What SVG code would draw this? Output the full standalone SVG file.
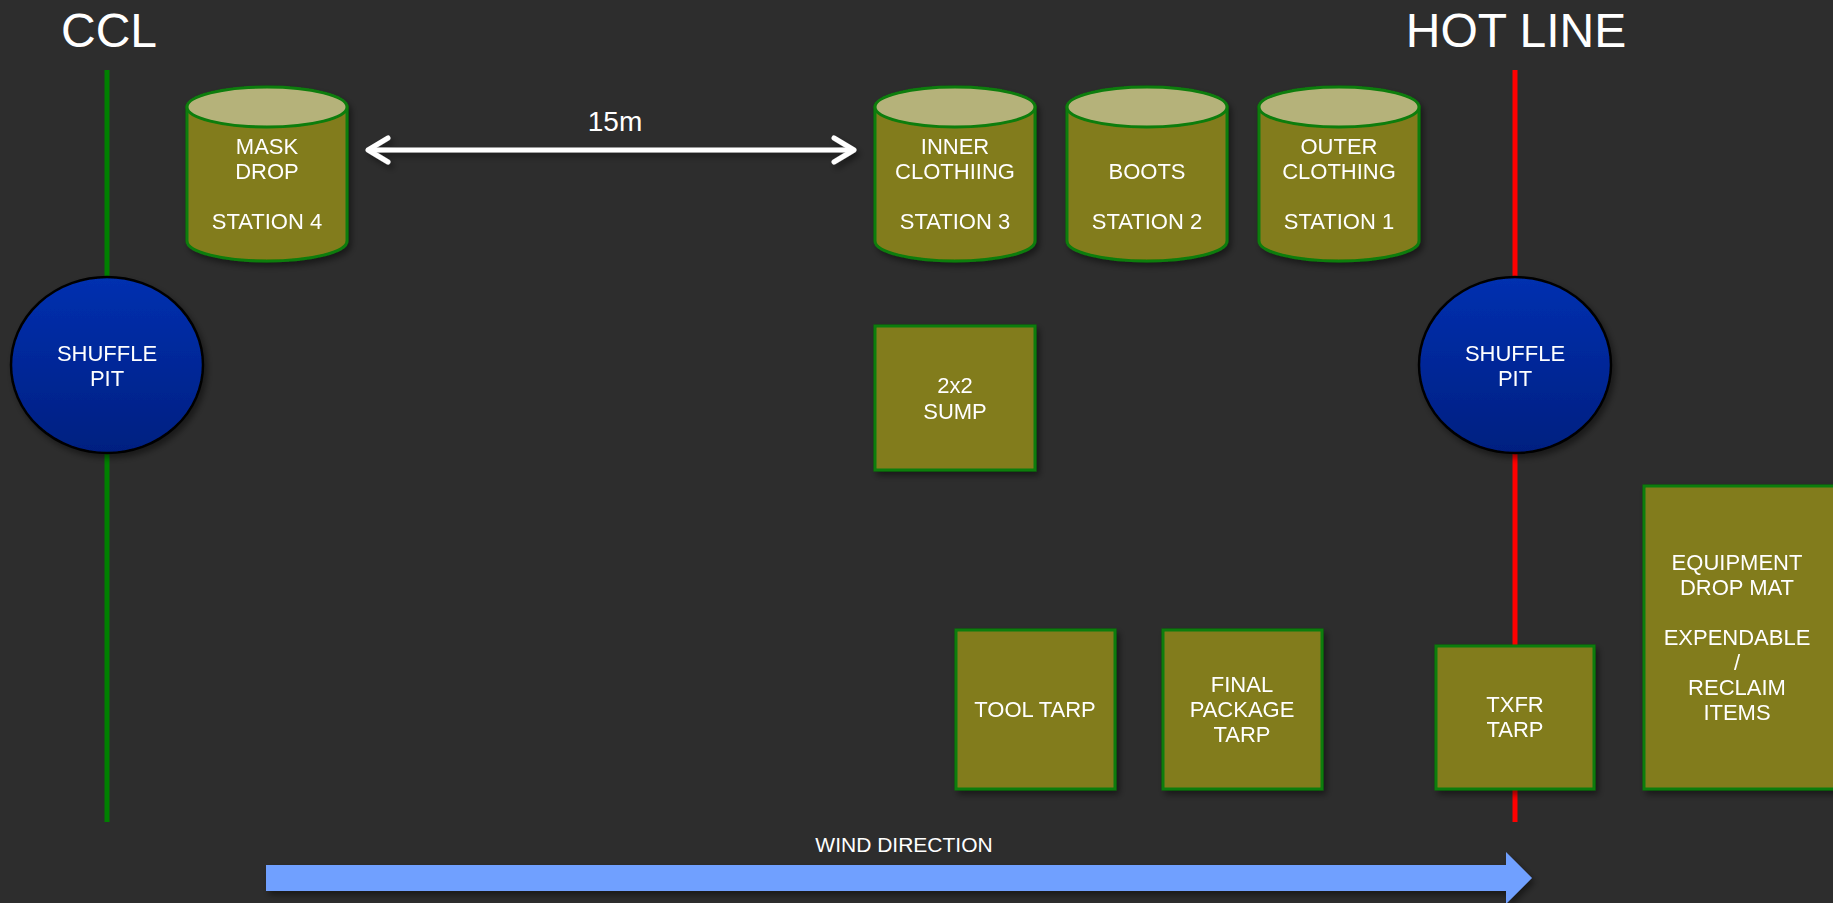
<svg xmlns="http://www.w3.org/2000/svg" width="1833" height="903" viewBox="0 0 1833 903">
<defs>
<style>
.t{font-family:"Liberation Sans",Arial,sans-serif;fill:#ffffff;text-anchor:middle;font-size:22px}
.big{font-size:48px}
.body{fill:#827b1a;stroke:#0b7d0b;stroke-width:3}
.top{fill:#b5b27a;stroke:#0b7d0b;stroke-width:3}
.box{fill:#827b1a;stroke:#0b7d0b;stroke-width:3}
.pit{fill:url(#blue);stroke:#000000;stroke-width:2.5}
</style>
<linearGradient id="blue" x1="0" y1="0" x2="0" y2="1">
<stop offset="0" stop-color="#0030b0"/>
<stop offset="1" stop-color="#001f80"/>
</linearGradient>
<filter id="sh" x="-20%" y="-20%" width="150%" height="150%">
<feDropShadow dx="3" dy="4" stdDeviation="3" flood-color="#000000" flood-opacity="0.45"/>
</filter>
<filter id="shu" filterUnits="userSpaceOnUse" x="0" y="0" width="1833" height="903">
<feDropShadow dx="3" dy="4" stdDeviation="3" flood-color="#000000" flood-opacity="0.45"/>
</filter>
<marker id="ah" viewBox="0 0 30 30" refX="24" refY="15" markerWidth="30" markerHeight="30" markerUnits="userSpaceOnUse" orient="auto-start-reverse">
<polyline points="4,3 24,15 4,27" fill="none" stroke="#ffffff" stroke-width="5" stroke-linecap="round" stroke-linejoin="round"/>
</marker>
</defs>
<rect x="0" y="0" width="1833" height="903" fill="#2d2d2d"/>

<g id="connectors">
<line x1="107" y1="70" x2="107" y2="822" stroke="#008000" stroke-width="5"/>
<line x1="1515" y1="70" x2="1515" y2="822" stroke="#ff0000" stroke-width="5"/>
<line x1="368" y1="150" x2="854" y2="150" stroke="#ffffff" stroke-width="5" marker-start="url(#ah)" marker-end="url(#ah)" filter="url(#shu)"/>
<text class="t" x="615" y="131" style="font-size:28px">15m</text>
</g>

<g id="title-ccl"><text class="t big" x="109" y="47">CCL</text></g>
<g id="title-hotline"><text class="t big" x="1516" y="47">HOT LINE</text></g>

<g id="station4" filter="url(#sh)">
<path class="body" d="M187,107 L187,241 A80,20 0 0 0 347,241 L347,107 Z"/>
<ellipse class="top" cx="267" cy="107" rx="80" ry="20"/>
<text class="t" x="267" y="154">MASK</text>
<text class="t" x="267" y="179">DROP</text>
<text class="t" x="267" y="229">STATION 4</text>
</g>

<g id="station3" filter="url(#sh)">
<path class="body" d="M875,107 L875,241 A80,20 0 0 0 1035,241 L1035,107 Z"/>
<ellipse class="top" cx="955" cy="107" rx="80" ry="20"/>
<text class="t" x="955" y="154">INNER</text>
<text class="t" x="955" y="179">CLOTHIING</text>
<text class="t" x="955" y="229">STATION 3</text>
</g>

<g id="station2" filter="url(#sh)">
<path class="body" d="M1067,107 L1067,241 A80,20 0 0 0 1227,241 L1227,107 Z"/>
<ellipse class="top" cx="1147" cy="107" rx="80" ry="20"/>
<text class="t" x="1147" y="179">BOOTS</text>
<text class="t" x="1147" y="229">STATION 2</text>
</g>

<g id="station1" filter="url(#sh)">
<path class="body" d="M1259,107 L1259,241 A80,20 0 0 0 1419,241 L1419,107 Z"/>
<ellipse class="top" cx="1339" cy="107" rx="80" ry="20"/>
<text class="t" x="1339" y="154">OUTER</text>
<text class="t" x="1339" y="179">CLOTHING</text>
<text class="t" x="1339" y="229">STATION 1</text>
</g>

<g id="shufflepit-left" filter="url(#sh)">
<ellipse class="pit" cx="107" cy="365" rx="96" ry="88"/>
<text class="t" x="107" y="361">SHUFFLE</text>
<text class="t" x="107" y="386">PIT</text>
</g>

<g id="shufflepit-right" filter="url(#sh)">
<ellipse class="pit" cx="1515" cy="365" rx="96" ry="88"/>
<text class="t" x="1515" y="361">SHUFFLE</text>
<text class="t" x="1515" y="386">PIT</text>
</g>

<g id="sump" filter="url(#sh)">
<rect class="box" x="875" y="326" width="160" height="144"/>
<text class="t" x="955" y="393">2x2</text>
<text class="t" x="955" y="419">SUMP</text>
</g>

<g id="tooltarp" filter="url(#sh)">
<rect class="box" x="956" y="630" width="159" height="159"/>
<text class="t" x="1035" y="717">TOOL TARP</text>
</g>

<g id="finalpackage" filter="url(#sh)">
<rect class="box" x="1163" y="630" width="159" height="159"/>
<text class="t" x="1242" y="692">FINAL</text>
<text class="t" x="1242" y="717">PACKAGE</text>
<text class="t" x="1242" y="742">TARP</text>
</g>

<g id="txfrtarp" filter="url(#sh)">
<rect class="box" x="1436" y="646" width="158" height="143"/>
<text class="t" x="1515" y="712">TXFR</text>
<text class="t" x="1515" y="737">TARP</text>
</g>

<g id="equipmentmat" filter="url(#sh)">
<rect class="box" x="1644" y="486" width="196" height="303"/>
<text class="t" x="1737" y="570">EQUIPMENT</text>
<text class="t" x="1737" y="595">DROP MAT</text>
<text class="t" x="1737" y="645">EXPENDABLE</text>
<text class="t" x="1737" y="670">/</text>
<text class="t" x="1737" y="695">RECLAIM</text>
<text class="t" x="1737" y="720">ITEMS</text>
</g>

<g id="wind">
<text class="t" x="904" y="852" style="font-size:21px">WIND DIRECTION</text>
<polygon points="266,865 1506,865 1506,852 1532,878 1506,904 1506,891 266,891" fill="#70a0ff" filter="url(#sh)"/>
</g>
</svg>
